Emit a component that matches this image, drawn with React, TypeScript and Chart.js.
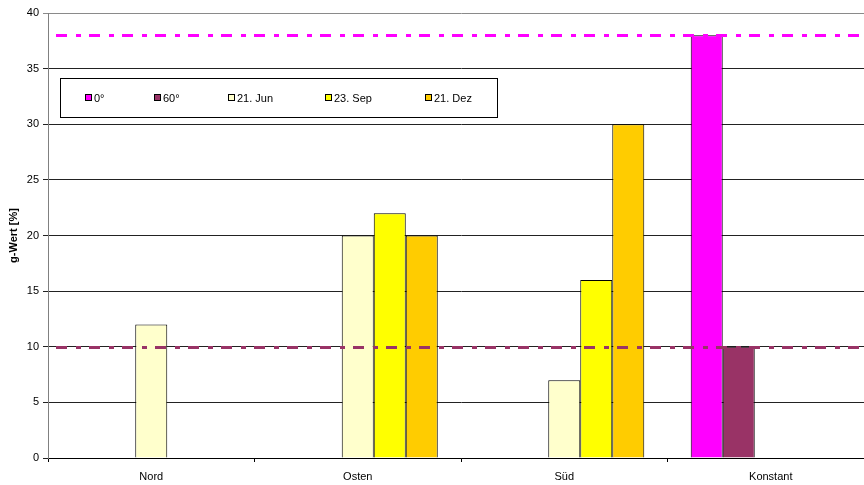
import React, { useEffect, useRef } from 'react';
import { Chart, registerables } from 'chart.js';

Chart.register(...registerables);

// Orientations on the x axis
const categories = ['Nord', 'Osten', 'Süd', 'Konstant'];

// Series names and values (g-Wert in %)
const seriesLabels = ['0°', '60°', '21. Jun', '23. Sep', '21. Dez'];
const angle0 = [null, null, null, 38];
const angle60 = [null, null, null, 10];
const jun21 = [12, 20, 7, null];
const sep23 = [null, 22, 16, null];
const dez21 = [null, 20, 30, null];
const seriesColors = ['#FF00FF', '#993366', '#FFFFCC', '#FFFF00', '#FFCC00'];

// Constant reference values drawn as dash-dot lines across the plot
const referenceValues = [38, 10];
const referenceColors = ['#FF00FF', '#993366'];

// Value axis
const yMin = 0;
const yMax = 40;
const yStep = 5;
const yTitle = 'g-Wert [%]';

const FONT = '"Liberation Sans", Arial, sans-serif';

const referenceLinesPlugin = {
  id: 'referenceLines',
  afterDatasetsDraw(chart: any) {
    const { ctx, chartArea, scales } = chart;
    ctx.save();
    referenceValues.forEach((v, i) => {
      const y = Math.round(scales.y.getPixelForValue(v)) + 0.5;
      ctx.beginPath();
      ctx.setLineDash([11, 9, 5, 8]);
      ctx.lineDashOffset = 0;
      ctx.lineWidth = 3;
      ctx.strokeStyle = referenceColors[i];
      ctx.moveTo(chartArea.left + 8, y);
      ctx.lineTo(chartArea.right, y);
      ctx.stroke();
    });
    ctx.restore();
  },
};

const boxedLegendPlugin = {
  id: 'boxedLegend',
  afterDraw(chart: any) {
    const { ctx } = chart;
    const box = { x: 60.5, y: 78.5, w: 437, h: 39 };
    const itemX = [85, 154, 228, 325, 425];
    const cy = 98;
    ctx.save();
    ctx.setLineDash([]);
    ctx.fillStyle = '#ffffff';
    ctx.fillRect(box.x, box.y, box.w, box.h);
    ctx.strokeStyle = '#000000';
    ctx.lineWidth = 1;
    ctx.strokeRect(box.x, box.y, box.w, box.h);
    ctx.font = `11px ${FONT}`;
    ctx.textBaseline = 'middle';
    chart.data.datasets.forEach((ds: any, i: number) => {
      const x = itemX[i];
      ctx.fillStyle = ds.backgroundColor;
      ctx.fillRect(x + 0.5, cy - 3.5, 6, 6);
      ctx.strokeStyle = '#000000';
      ctx.strokeRect(x + 0.5, cy - 3.5, 6, 6);
      ctx.fillStyle = '#000000';
      ctx.fillText(ds.label, x + 9, cy + 0.5);
    });
    ctx.restore();
  },
};

export default function App() {
  const canvasRef = useRef<HTMLCanvasElement | null>(null);

  useEffect(() => {
    if (!canvasRef.current) return;
    Chart.defaults.font.family = FONT;
    Chart.defaults.font.size = 11;
    Chart.defaults.color = '#000000';

    const values = [angle0, angle60, jun21, sep23, dez21];
    const chart = new Chart(canvasRef.current, {
      type: 'bar',
      data: {
        labels: categories,
        datasets: values.map((data, i) => ({
          label: seriesLabels[i],
          data,
          backgroundColor: seriesColors[i],
          borderColor: '#000000',
          borderWidth: 1,
          barPercentage: 1,
          categoryPercentage: 0.775,
        })),
      },
      options: {
        responsive: false,
        animation: false,
        devicePixelRatio: 1,
        layout: { padding: { top: 13, right: 2, left: 0, bottom: 0 } },
        plugins: {
          legend: { display: false },
          tooltip: { enabled: false },
        },
        scales: {
          x: {
            grid: {
              drawOnChartArea: false,
              drawTicks: true,
              tickLength: 4,
              color: '#000000',
              offset: true,
            },
            border: { color: '#000000', width: 1 },
            ticks: { padding: 8, color: '#000000', font: { size: 11 } },
            afterFit(scale: any) {
              scale.height = 27;
            },
          },
          y: {
            min: yMin,
            max: yMax,
            ticks: { stepSize: yStep, padding: 4, color: '#000000', font: { size: 11 } },
            grid: {
              color: (c: any) => (c.tick && c.tick.value === yMax ? '#8a8a8a' : '#222222'),
              tickLength: 5,
            },
            border: { color: '#808080', width: 1 },
            title: {
              display: true,
              text: yTitle,
              font: { size: 11, weight: 'bold' },
              color: '#000000',
              padding: { top: 7, bottom: 0 },
            },
            afterFit(scale: any) {
              scale.width = 48;
            },
          },
        },
      },
      plugins: [referenceLinesPlugin, boxedLegendPlugin],
    });
    return () => chart.destroy();
  }, []);

  return (
    <div
      style={{
        position: 'fixed',
        left: 0,
        top: 0,
        width: 864,
        height: 485,
        overflow: 'hidden',
        background: '#ffffff',
      }}
    >
      <canvas ref={canvasRef} width={876} height={485} style={{ display: 'block' }} />
    </div>
  );
}
